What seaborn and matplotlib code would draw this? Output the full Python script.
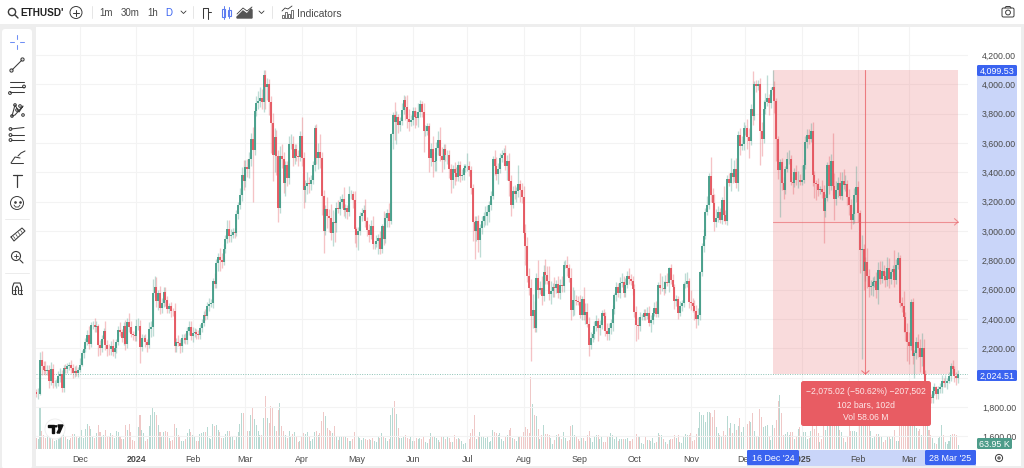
import matplotlib
matplotlib.use("Agg")
import matplotlib.dates as mdates
import matplotlib.pyplot as plt
from matplotlib.patches import Circle, FancyBboxPatch, Rectangle
import numpy as np
import pandas as pd
import seaborn as sns

# daily closes, one row per month (Nov 2023 - Mar 2025)
closes = [
    1885,1888,2121,2077,2052,2045,2055,1980,2060,1960,1960,1963,2013,2023,1932,2063,2062,2080,2084,2063,2028,2048,2029,2052,
    2087,2165,2193,2243,2293,2232,2358,2358,2342,2353,2224,2202,2260,2315,2220,2197,2196,2217,2176,2201,2240,2326,2314,2270,2352,2230,2378,2344,2298,2293,2281,
    2352,2355,2209,2268,2269,2240,2222,2330,2344,2580,2616,2524,2576,2472,2511,2587,2529,2469,2489,2456,2452,2215,2240,2235,2217,2267,2267,2257,2318,2343,2283,
    2305,2308,2295,2290,2338,2372,2425,2420,2486,2503,2507,2660,2640,2780,2823,2800,2785,2880,2945,3015,2965,2970,2990,2985,3113,3178,3243,3385,3340,
    3433,3421,3490,3630,3550,3815,3870,3885,3905,3880,4066,3980,4005,3880,3735,3520,3640,3510,3160,3510,3490,3330,3450,3360,3590,3590,3500,3560,3510,3505,3650,
    3500,3280,3310,3330,3320,3350,3450,3700,3500,3540,3500,3240,3000,3150,3100,3085,2985,3060,3055,3160,3150,3200,3220,3140,3155,3130,3250,3250,3210,3010,
    2970,3000,3100,3120,3140,3065,3005,2975,3035,2910,2910,2930,2950,2880,3035,2945,3090,3120,3070,3660,3790,3740,3780,3725,3750,3825,3890,3845,3765,3745,3760,
    3815,3780,3770,3810,3865,3810,3680,3685,3715,3500,3560,3470,3480,3565,3620,3510,3485,3560,3515,3520,3420,3350,3420,3395,3370,3450,3375,3380,3430,3440,
    3440,3415,3290,3060,3000,3070,2935,3020,3065,3100,3100,3130,3175,3240,3490,3445,3390,3425,3500,3520,3535,3445,3480,3340,3175,3275,3250,3270,3320,3280,3230,
    2985,2900,2690,2610,2420,2460,2340,2680,2600,2610,2555,2720,2700,2660,2570,2590,2615,2610,2635,2575,2630,2625,2765,2770,2745,2680,2460,2530,2530,2525,2515,
    2425,2535,2425,2450,2365,2225,2270,2295,2355,2385,2340,2360,2440,2420,2315,2295,2340,2370,2465,2560,2615,2580,2645,2650,2580,2630,2695,2675,2660,2605,
    2450,2360,2350,2415,2415,2440,2420,2440,2370,2395,2440,2475,2435,2630,2610,2610,2605,2650,2645,2745,2665,2620,2525,2535,2440,2485,2510,2640,2640,2660,2515,
    2510,2490,2455,2400,2425,2720,2895,2965,3130,3180,3375,3245,3190,3060,3090,3130,3075,3210,3110,3070,3355,3325,3395,3365,3425,3330,3655,3580,3590,3705,
    3705,3640,3615,3835,3785,4000,3990,4000,3680,3630,3830,3880,3905,3870,3960,3985,3885,3625,3415,3470,3330,3280,3420,3490,3490,3335,3330,3400,3345,3350,3335,
    3350,3450,3605,3655,3630,3685,3380,3325,3320,3280,3285,3265,3135,3225,3450,3310,3475,3305,3215,3280,3330,3240,3340,3315,3320,3235,3180,3075,3115,3245,3300,
    3120,2870,2880,2730,2785,2690,2620,2625,2655,2660,2600,2735,2675,2725,2695,2665,2745,2670,2720,2740,2665,2770,2815,2510,2490,2410,2310,2240,
    2215,2515,2150,2170,2240,2200,2140,2205,2025,1860,1920,1870,1860,1910,1935,1885,1925,1935,1980,1965,1965,1980,2010,2080,2060,2010,2000,2024.51,
]

# wick above / below the body, USD
upper_wick = [
    25,40,55,60,35,60,30,30,45,30,25,30,35,40,30,20,30,20,25,35,30,30,35,20,
    50,20,30,30,30,60,20,30,45,30,15,35,30,25,70,35,35,30,45,25,20,25,55,15,30,40,25,60,40,20,25,
    45,50,40,30,20,30,20,50,40,90,75,70,20,50,30,30,30,30,20,25,20,60,30,50,30,30,30,40,30,45,40,
    40,30,20,30,30,30,30,40,30,40,30,20,50,30,30,60,50,30,30,60,60,40,30,30,30,20,50,50,100,
    50,60,50,40,80,30,50,70,80,60,30,35,40,30,40,70,60,50,40,70,80,50,30,30,60,70,60,30,30,40,30,
    130,40,40,70,40,30,30,20,30,60,120,40,40,30,80,50,100,80,70,40,50,40,30,80,30,20,60,30,20,60,
    20,30,30,40,40,80,30,40,40,70,20,40,30,50,10,100,30,30,70,10,20,90,40,20,30,50,40,30,80,70,30,
    30,30,40,60,30,20,60,40,20,20,40,90,60,40,60,90,60,30,30,30,30,40,30,50,40,30,30,40,30,20,
    90,40,30,30,40,30,40,30,40,30,70,50,30,30,20,60,60,40,30,30,30,50,40,50,40,30,40,30,130,30,50,
    80,60,60,60,60,110,60,30,120,50,80,50,90,60,100,70,30,70,30,60,40,60,30,30,60,30,70,90,70,30,30,
    50,20,80,60,60,50,40,30,30,40,20,30,20,30,30,60,30,30,30,20,40,30,40,60,40,50,30,50,30,30,
    30,40,50,30,20,30,30,40,50,30,30,40,50,20,80,80,50,50,60,10,30,40,20,30,20,40,20,10,70,60,20,
    80,30,40,40,50,10,20,50,30,60,20,130,50,60,60,40,30,20,100,30,30,40,100,30,60,70,30,50,60,40,
    20,60,60,30,255,20,30,30,40,60,60,60,160,30,20,114.53,40,20,20,20,30,40,20,50,60,30,30,30,50,60,40,
    100,40,40,40,40,50,60,30,20,40,20,60,50,30,20,60,50,190,90,60,40,70,60,80,60,30,50,40,50,50,140,
    40,20,90,30,40,100,50,40,30,30,60,50,60,70,40,30,80,70,20,30,130,40,40,20,40,100,40,60,
    70,20,30,20,40,60,60,100,60,30,10,30,20,30,30,10,20,30,40,20,50,20,30,20,40,20,30,30,
]
lower_wick = [
    20,30,10,60,30,30,30,50,30,30,20,30,20,40,30,30,30,30,30,30,30,25,20,25,
    15,10,30,20,20,40,20,30,30,30,80,50,30,20,30,50,40,40,30,40,30,20,30,30,50,40,30,30,20,40,30,
    30,30,109,30,20,30,50,20,50,60,30,40,60,40,30,30,40,30,30,40,30,40,40,20,50,40,30,30,30,30,30,
    40,30,30,30,30,30,20,30,20,30,20,30,30,30,50,70,40,20,30,30,40,40,20,30,20,30,30,40,60,
    40,50,60,50,350,30,30,40,40,50,70,150,90,90,200,180,120,130,100,40,60,70,90,50,40,30,60,40,30,60,30,
    60,120,80,60,60,40,30,40,40,80,70,130,150,30,80,90,50,90,130,60,30,40,40,40,50,50,30,30,50,90,
    80,100,30,30,40,40,40,50,30,30,30,20,90,40,30,40,30,60,40,20,100,120,150,60,40,30,30,90,60,60,30,
    40,80,50,60,30,30,140,30,30,100,60,100,60,70,50,30,80,60,40,60,60,90,60,80,30,30,40,30,30,30,
    30,40,40,130,190,70,80,110,40,40,60,60,70,30,20,60,40,70,30,30,70,30,100,100,70,20,30,50,40,80,40,
    30,130,40,50,310,80,30,30,60,30,60,30,60,20,40,70,40,60,30,30,40,40,40,20,50,30,70,40,100,30,20,
    20,30,30,60,20,80,30,30,30,40,90,50,30,40,30,40,40,40,50,30,40,30,40,30,30,30,20,40,30,40,
    40,110,90,30,20,20,30,20,20,60,30,20,20,20,40,20,40,30,20,60,30,20,60,40,40,20,30,30,30,20,40,
    50,40,60,60,40,30,30,40,20,20,30,50,100,60,30,30,20,30,40,20,30,20,50,40,30,40,60,60,30,40,
    50,80,120,30,60,30,40,30,230,120,30,30,30,80,30,30,80,150,60,317,50,60,30,20,30,20,80,30,30,50,20,
    20,20,30,40,40,20,70,100,110,40,30,40,215,40,20,60,30,60,140,40,50,20,30,30,40,60,70,60,30,60,50,
    60,160,745,130,70,80,70,60,70,40,60,100,40,30,30,50,40,60,30,30,50,30,30,30,40,100,60,130,
    120,30,60,150,40,60,100,60,30,40,40,30,30,30,30,30,30,30,40,30,30,40,20,30,30,40,50,40,
]

# daily volume in thousands
volumes = [
    180,170,700,300,240,180,230,250,310,320,140,150,230,240,380,320,220,170,150,180,250,250,200,180,
    210,320,190,330,420,380,330,220,190,270,400,290,220,240,310,210,200,260,230,190,300,280,220,170,170,390,310,410,280,150,130,
    260,370,570,320,270,130,170,380,560,700,620,560,390,290,200,290,300,280,190,130,150,420,350,230,200,140,130,160,260,330,280,
    240,220,130,130,250,260,280,280,360,190,170,420,380,390,320,280,190,190,250,300,300,210,210,150,210,290,410,600,600,
    360,300,300,570,700,500,400,300,230,240,520,880,510,430,720,700,380,300,640,760,380,300,230,180,300,220,250,290,210,110,130,
    210,270,250,280,210,140,170,280,300,240,260,460,610,550,350,310,300,260,380,210,150,220,200,220,220,190,130,140,160,290,
    260,210,190,150,180,170,150,170,150,190,140,110,210,190,270,200,190,130,170,570,680,800,580,350,190,180,210,240,190,160,200,
    130,130,190,170,190,170,210,120,100,170,270,220,200,190,150,110,210,210,160,200,190,110,120,240,160,180,170,130,80,100,
    170,170,260,340,560,160,210,290,220,200,190,200,120,140,320,280,270,230,260,170,140,210,240,320,350,190,170,130,210,200,220,
    280,360,340,260,1200,750,560,540,340,160,240,400,250,250,240,180,80,150,240,250,220,160,280,190,130,150,380,400,240,200,170,
    130,180,190,130,230,300,180,110,220,230,240,170,200,120,120,200,200,260,240,170,200,130,170,170,170,160,180,140,130,160,
    300,250,220,220,100,90,200,150,150,130,180,100,110,270,240,230,170,120,90,150,160,170,240,180,240,120,100,220,250,230,230,
    260,130,150,250,350,620,560,560,440,620,620,600,530,640,360,260,240,200,300,230,540,350,430,270,420,310,380,520,290,370,
    300,410,460,450,590,300,200,200,660,530,370,380,400,220,150,390,350,480,800,900,600,240,250,290,240,290,280,160,200,340,360,
    220,280,280,170,180,300,520,340,400,270,110,160,560,310,470,400,420,450,500,400,420,310,280,180,110,210,430,300,300,300,280,
    400,760,1000,550,450,430,380,300,180,200,250,250,220,200,120,150,220,220,170,200,310,140,130,500,550,550,650,560,
    400,600,600,500,350,300,340,230,500,680,550,320,230,190,100,90,180,210,400,240,120,80,130,230,250,250,230,63.95,
]

first_open = 1900
first_day = "2023-11-07"

tick_dates = ["2023-12-01", "2024-01-01", "2024-02-01", "2024-03-01", "2024-04-01", "2024-05-01",
              "2024-06-01", "2024-07-01", "2024-08-01", "2024-09-01", "2024-10-01", "2024-11-01",
              "2024-12-01", "2025-01-01", "2025-02-01", "2025-03-01"]
tick_labels = ["Dec", "2024", "Feb", "Mar", "Apr", "May", "Jun", "Jul", "Aug", "Sep", "Oct", "Nov",
               "Dec", "2025", "Feb", "Mar"]
price_ticks = [1600, 1800, 2000, 2200, 2400, 2600, 2800, 3000, 3200, 3400, 3600, 3800, 4000, 4200]
hidden_price_label = 2000  # sits under the 2,024.51 box in the reference

measure_start, measure_end = "2024-12-16", "2025-03-28"
measure_high, measure_low = 4099.53, 2024.51
last_price = 2024.51

GREEN = "#3f9a85"
RED = "#e4505a"
MEASURE = "#e85d63"
BLUE = "#3a63f0"
BAND = "#c9d5f9"
TEXT = "#4a4a4a"

sns.set_theme(style="white")
plt.rcParams["font.family"] = ["Liberation Sans", "DejaVu Sans"]

assert len(closes) == len(upper_wick) == len(lower_wick) == len(volumes), (len(closes), len(upper_wick), len(lower_wick), len(volumes))

dates = pd.date_range(first_day, periods=len(closes), freq="D")
df = pd.DataFrame({"day": mdates.date2num(dates), "close": closes, "upper": upper_wick,
                   "lower": lower_wick, "volume": volumes})
df["open"] = df["close"].shift(1).fillna(first_open)
df["high"] = df[["open", "close"]].max(axis=1) + df["upper"]
df["low"] = df[["open", "close"]].min(axis=1) - df["lower"]
df["side"] = np.where(df["close"] >= df["open"], "up", "down")
colors = df["side"].map({"up": GREEN, "down": RED})

fig = plt.figure(figsize=(10.24, 4.68), dpi=100, facecolor="#eeeeee")

def px_axes(z):
    a = fig.add_axes([0, 0, 1, 1], zorder=z)
    a.set_xlim(0, 1024)
    a.set_ylim(468, 0)
    a.axis("off")
    return a

# panels behind the chart
bg = px_axes(0)
bg.add_patch(Rectangle((0, 0), 1024, 24, color="white", lw=0))
bg.add_patch(FancyBboxPatch((2, 29), 30, 440, boxstyle="round,pad=0,rounding_size=3", color="white", lw=0))
bg.add_patch(Rectangle((36, 27), 985, 439, color="white", lw=0))
bg.add_patch(Rectangle((747, 450), 229, 16, color=BAND, lw=0))
bg.add_patch(Rectangle((977, 70), 40, 305, color=BAND, lw=0))

# main chart, axes pinned to the pixel box of the reference
ax = fig.add_axes([36 / 1024, 1 - 449 / 468, (968 - 36) / 1024, (449 - 27) / 468], zorder=2)
vol_ax = ax.twinx()
vol_ax.set_zorder(1)
ax.set_zorder(2)
ax.patch.set_visible(False)
vol_ax.patch.set_visible(False)

sns.barplot(data=df, x="day", y="volume", hue="side", palette={"up": "#7fc9b9", "down": "#f09a98"},
            native_scale=True, dodge=False, width=0.56, alpha=0.6, linewidth=0, legend=False, ax=vol_ax)
vol_ax.set_ylim(0, 7000)
vol_ax.set_yticks([])
vol_ax.set_ylabel("")
vol_ax.grid(False)

ax.vlines(df["day"], df["low"], df["high"], colors=colors, linewidth=0.95, alpha=0.34, zorder=3)
ax.vlines(df["day"], df[["open", "close"]].min(axis=1), df[["open", "close"]].max(axis=1),
          colors=colors, linewidth=1.3, zorder=4)

tick_nums = mdates.date2num(pd.to_datetime(tick_dates))
day0 = tick_nums[0]
ax.set_xlim(day0 + (36 - 80) / 1.818, day0 + (968 - 80) / 1.818)
ax.set_ylim(1513, 4391)
ax.set_xticks(tick_nums)
ax.set_xticklabels(tick_labels)
ax.set_xlabel("")
ax.yaxis.tick_right()
ax.set_yticks(price_ticks)
ax.set_yticklabels(["" if p == hidden_price_label else f"{p:,.2f}" for p in price_ticks])
ax.tick_params(axis="x", length=0, pad=4, labelsize=6.4, labelcolor=TEXT)
ax.tick_params(axis="y", length=0, pad=10, labelsize=6.3, labelcolor=TEXT)
for lab in ax.get_xticklabels():
    if lab.get_text() in ("2024", "2025"):
        lab.set_fontweight("bold")
ax.grid(True, color="#f3f3f3", linewidth=0.8, zorder=0)
ax.set_axisbelow(True)
sns.despine(ax=ax, left=True, bottom=True, right=True, top=True)
sns.despine(ax=vol_ax, left=True, bottom=True, right=True, top=True)

# last price dotted line
ax.axhline(last_price, color=GREEN, linewidth=0.7, linestyle=(0, (1, 1.5)), alpha=0.6, zorder=2)

# measure tool
m0, m1 = mdates.date2num(pd.to_datetime([measure_start, measure_end]))
mid_x, mid_y = (m0 + m1) / 2, (measure_high + measure_low) / 2
ax.add_patch(Rectangle((m0, measure_low), m1 - m0, measure_high - measure_low, color=MEASURE, alpha=0.22, lw=0, zorder=2.5))
ax.plot([m0, m1], [mid_y, mid_y], color=MEASURE, linewidth=0.8, alpha=0.6, zorder=5)
ax.plot([mid_x, mid_x], [measure_high, measure_low], color=MEASURE, linewidth=0.8, alpha=0.75, zorder=5)
ax.plot([m1 - 2, m1, m1 - 2], [mid_y + 22, mid_y, mid_y - 22], color=MEASURE, linewidth=0.8, alpha=0.6, zorder=5)
ax.plot([mid_x - 2, mid_x, mid_x + 2], [measure_low + 22, measure_low, measure_low + 22], color=MEASURE, linewidth=0.8, alpha=0.75, zorder=5)

# everything drawn over the chart
top = px_axes(6)
ICON = "#3a3a3a"

def line(xs, ys, color=ICON, lw=0.75):
    top.plot(xs, ys, color=color, linewidth=lw, solid_capstyle="round")

def ring(x, y, r, color=ICON, lw=0.75, fill="none"):
    top.add_patch(Circle((x, y), r, edgecolor=color, facecolor=fill, linewidth=lw))

def label_box(x, y, w, h, txt, color, tcolor="white", size=6.4):
    top.add_patch(FancyBboxPatch((x, y), w, h, boxstyle="round,pad=0,rounding_size=1.5", color=color, lw=0))
    top.text(x + w / 2, y + h / 2, txt, color=tcolor, fontsize=size, ha="center", va="center_baseline")

label_box(977, 65, 40, 11, "4,099.53", BLUE)
label_box(977, 370, 40, 11, "2,024.51", BLUE)
label_box(977, 438, 35, 11, "63.95 K", "#4d9c8a")
label_box(747, 450, 52, 15, "16 Dec '24", BLUE)
label_box(925, 450, 51, 15, "28 Mar '25", BLUE)

top.add_patch(FancyBboxPatch((801, 381), 130, 45, boxstyle="round,pad=0,rounding_size=2.5", color="#e85c63", lw=0))
for y, txt in zip([391, 404, 417], ["\u22122,075.02 (\u221250.62%) \u2212207,502", "102 bars, 102d", "Vol 58.06 M"]):
    top.text(866, y, txt, color="#fde7e8", fontsize=6.2, ha="center", va="center_baseline")

# toolbar
ring(12, 12, 3.6, lw=1)
line([15, 18], [15, 18], lw=1)
top.text(20, 12.5, "ETHUSD'", fontsize=7.2, fontweight="bold", color="#222222", va="center_baseline")
ring(76, 12.5, 6, lw=0.7)
line([73, 79], [12.5, 12.5])
line([76, 76], [9.5, 15.5])
line([91.5, 91.5], [6, 18], color="#e6e6e6", lw=0.7)
for x, txt, col in [(106, "1m", TEXT), (130, "30m", TEXT), (152.5, "1h", TEXT), (168.5, "D", "#3a63f0")]:
    top.text(x, 12.5, txt, fontsize=7, color=col, ha="center", va="center_baseline")
line([181, 183.5, 186], [11, 13.5, 11], lw=0.6)
line([192.5, 192.5], [6, 18], color="#e6e6e6", lw=0.7)
line([203, 203, 206], [18, 8, 8])
line([206, 208, 208], [8, 8, 19])
line([208, 211], [12, 12])
top.add_patch(Rectangle((222, 8.5), 3, 8, facecolor="none", edgecolor="#5c7cf0", lw=0.8))
top.add_patch(Rectangle((227.5, 10), 3, 6, facecolor="none", edgecolor="#5c7cf0", lw=0.8))
line([223.5, 223.5], [6, 19], color="#5c7cf0", lw=0.7)
line([229, 229], [7, 18], color="#5c7cf0", lw=0.7)
top.fill([237, 243, 247, 251, 252, 252, 237], [17, 11, 14, 9, 10, 18, 18], color="#555555")
line([237, 243, 247, 252], [14, 8, 11, 7], lw=0.6)
line([259, 261.5, 264], [11, 13.5, 11], lw=0.6)
line([272, 272], [6, 18], color="#e6e6e6", lw=0.7)
for x, h in [(282, 3), (285, 6), (288, 4), (291, 8)]:
    top.add_patch(Rectangle((x, 18 - h), 2, h, facecolor="none", edgecolor=ICON, lw=0.5))
line([282, 285, 288, 292], [11, 8, 9, 6], lw=0.6)
top.text(297, 12.8, "Indicators", fontsize=7.4, color=TEXT, va="center_baseline")
top.add_patch(FancyBboxPatch((1002, 8), 12, 9, boxstyle="round,pad=0,rounding_size=1.5", facecolor="none", edgecolor=ICON, lw=0.7))
ring(1008, 12.5, 2.4, lw=0.7)
line([1005, 1006, 1010, 1011], [8, 6.5, 6.5, 8], lw=0.7)

# sidebar tools
blue = "#6f8ff5"
line([10, 14], [42, 42], color=blue)
line([20, 24], [42, 42], color=blue)
line([17, 17], [35, 39], color=blue)
line([17, 17], [45, 49], color=blue)
line([12, 22], [70, 60])
ring(11.5, 70.5, 1.6, fill="white")
ring(22.5, 59.5, 1.6, fill="white")
for y in [82, 87, 92]:
    line([10, 24], [y, y])
ring(24, 86.5, 1.4, fill="white")
ring(10, 93, 1.4, fill="white")
line([12, 15, 19, 23, 15, 12], [116, 105, 112, 106, 115, 116])
for x, y in [(12, 116), (15, 105), (17, 110), (20, 106), (23, 115)]:
    ring(x, y, 1.3, fill="white")
for y in [129, 135, 140]:
    line([11, 24], [y, y - 1.5 if y == 129 else y])
    ring(10.5, y, 1.4, fill="white")
line([11, 15, 20], [163, 157, 158])
line([11, 23], [163, 163])
line([18, 21, 25], [156, 153, 151])
line([12.5, 21.5], [175, 175], lw=0.9)
line([17, 17], [175, 187], lw=0.9)
ring(17, 203, 6.5, lw=0.7)
top.plot([14.5, 19.5], [201.5, 201.5], ls="", marker="o", ms=0.9, color=ICON)
line([14, 15.5, 18.5, 20], [205, 207, 207, 205], lw=0.6)
line([5, 29], [219, 219], color="#ececec", lw=0.7)
line([11, 22, 25, 14, 11], [237, 228, 231, 241, 237])
for i in range(4):
    line([13.5 + i * 2.4, 15 + i * 2.4], [236.5 - i * 2, 238.5 - i * 2], lw=0.5)
ring(16, 256, 4.5, lw=0.8)
line([20, 23], [260, 263], lw=0.8)
line([14, 18], [256, 256], lw=0.6)
line([16, 16], [254, 258], lw=0.6)
line([5, 29], [273, 273], color="#ececec", lw=0.7)
line([12.5, 12.5, 14, 20, 21.5, 21.5], [294, 287, 283, 283, 287, 294], lw=0.8)
line([15.5, 15.5, 17, 18.5, 18.5], [294, 288, 286, 288, 294], lw=0.8)
line([12.5, 15.5], [294, 294], lw=0.8)
line([18.5, 21.5], [294, 294], lw=0.8)
line([12.5, 15.5], [290, 290], lw=0.6)
line([18.5, 21.5], [290, 290], lw=0.6)

# tradingview badge and axis settings
ring(55, 429, 10, color="#eeeeee", lw=0.7, fill="white")
top.fill([47.5, 54, 54, 52, 52, 49.5, 49.5, 47.5], [425, 425, 433, 433, 427, 427, 427, 427], color="#111111")
ring(56, 426.3, 1.3, color="#111111", fill="#111111", lw=0)
top.fill([58, 63, 59.5, 57, 59], [425, 425, 433, 433, 429], color="#111111")
ring(999, 458, 3.6, lw=0.7)
ring(999, 458, 1.1, lw=0.7)

fig.savefig("out.png", dpi=100, facecolor=fig.get_facecolor())
